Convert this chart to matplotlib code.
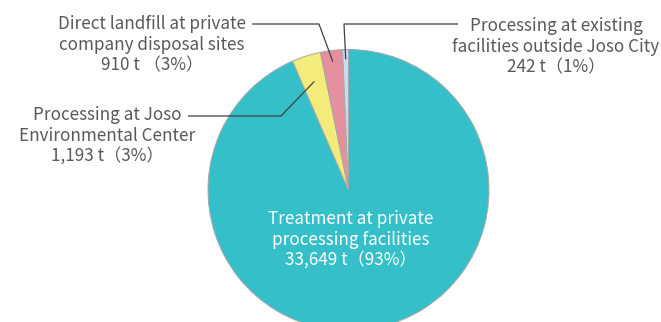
import numpy as np
import matplotlib
matplotlib.use('Agg')
import matplotlib.pyplot as plt

plt.rcParams['font.family'] = ['Noto Sans CJK JP', 'DejaVu Sans']

####################################
# Data
####################################

labels = ['Treatment at private\nprocessing facilities',
          'Processing at Joso\nEnvironmental Center',
          'Direct landfill at private\ncompany disposal sites',
          'Processing at existing\nfacilities outside Joso City']
tonnes = [33649, 1193, 910, 242]
value_text = ['33,649 t（93%）', '1,193 t（3%）', '910 t （3%）', '242 t（1%）']
colours = ['#35bfc9', '#f3ec7a', '#e4909f', '#c7dcef']

####################################
# Layout (pixels, y from bottom)
####################################

W, H = 661, 322
centre = (348.5, H - 190)
radius = 140.5
txt_col = '#595959'
line_col = '#404040'
fsize = 12.3
lspace = 1.2

# text block position, leader start, elbow, anchor radius fraction
callouts = {
    1: dict(xy=(107, H - 136), start=(188, H - 116), elbow=(281, H - 116), r=0.81),
    2: dict(xy=(152, H - 45), start=(252, H - 24), elbow=(319, H - 24), r=0.92),
    3: dict(xy=(556, H - 47), start=(458, H - 24), elbow=(344, H - 24), r=0.93),
}

fig = plt.figure(figsize=(W / 100, H / 100), dpi=100)
ax = fig.add_axes([0, 0, 1, 1])

wedges, _ = ax.pie(tonnes, colors=colours, startangle=90, counterclock=False,
                   center=centre, radius=radius,
                   wedgeprops=dict(edgecolor='#a8a8a8', linewidth=0.7))

ax.set_xlim(0, W)
ax.set_ylim(0, H)
ax.set_aspect('equal')
ax.axis('off')

# big slice label
ax.text(centre[0] + 2, H - 240, labels[0] + '\n' + value_text[0], ha='center', va='center',
        color='white', fontsize=fsize, linespacing=lspace)

for i, c in callouts.items():
    w = wedges[i]
    mid = np.deg2rad((w.theta1 + w.theta2) / 2)
    ax_x = centre[0] + c['r'] * radius * np.cos(mid)
    ax_y = centre[1] + c['r'] * radius * np.sin(mid)
    ax.plot([c['start'][0], c['elbow'][0], ax_x], [c['start'][1], c['elbow'][1], ax_y],
            color=line_col, lw=0.9, solid_capstyle='butt')
    ax.text(c['xy'][0], c['xy'][1], labels[i] + '\n' + value_text[i], ha='center', va='center',
            color=txt_col, fontsize=fsize, linespacing=lspace)

fig.savefig('out.png', dpi=100)
